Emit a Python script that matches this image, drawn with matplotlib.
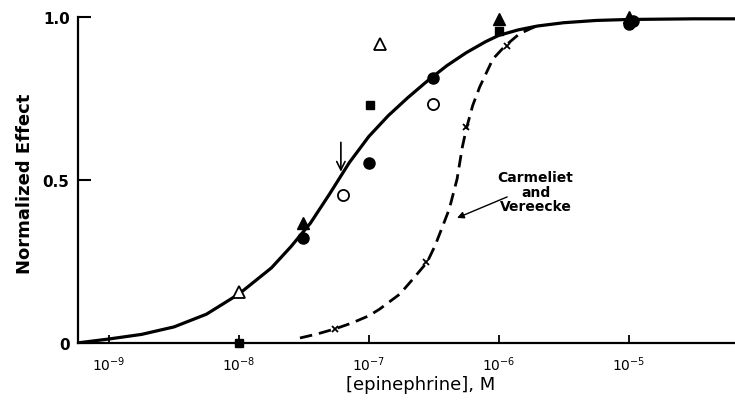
import numpy as np
import matplotlib
matplotlib.use('Agg')
import matplotlib.pyplot as plt

# fitted curve (log10 of concentration, normalized effect)
solid_logx = [-9.24, -9.0, -8.75, -8.5, -8.25, -8.0, -7.75, -7.6, -7.45, -7.3, -7.15,
              -7.0, -6.85, -6.7, -6.55, -6.4, -6.25, -6.1, -6.0, -5.85, -5.7,
              -5.5, -5.25, -5.0, -4.5, -4.18]
solid_y = [0.0, 0.012, 0.026, 0.049, 0.088, 0.150, 0.230, 0.295, 0.367, 0.458, 0.553,
           0.633, 0.697, 0.752, 0.803, 0.850, 0.890, 0.924, 0.943, 0.960, 0.972,
           0.982, 0.989, 0.992, 0.994, 0.994]

# Carmeliet and Vereecke curve (dashed)
dash_logx = [-7.53, -7.4, -7.26, -7.13, -7.0, -6.915, -6.76, -6.66, -6.55, -6.49,
             -6.43, -6.38, -6.32, -6.28, -6.25, -6.2, -6.146, -6.044, -5.95, -5.84, -5.71]
dash_y = [0.015, 0.027, 0.043, 0.061, 0.083, 0.104, 0.150, 0.196, 0.248, 0.298,
          0.359, 0.411, 0.503, 0.600, 0.655, 0.728, 0.785, 0.871, 0.911, 0.948, 0.972]

# data points (concentration in M, effect)
filled_circle_x = [3.1e-8, 1.0e-7, 3.1e-7, 1.0e-5, 1.08e-5]
filled_circle_y = [0.322, 0.552, 0.813, 0.979, 0.988]
open_circle_x = [6.3e-8, 3.1e-7]
open_circle_y = [0.454, 0.733]
filled_tri_x = [3.1e-8, 1.0e-6, 1.0e-5]
filled_tri_y = [0.368, 0.994, 1.0]
open_tri_x = [1.0e-8, 1.22e-7]
open_tri_y = [0.156, 0.917]
filled_sq_x = [1.0e-8, 1.03e-7, 1.0e-6]
filled_sq_y = [0.0, 0.73, 0.957]
cross_x = [5.47e-8, 2.78e-7, 5.6e-7, 1.15e-6]
cross_y = [0.043, 0.248, 0.663, 0.911]

xticks = [1e-9, 1e-8, 1e-7, 1e-6, 1e-5]
xtick_labels = ['$10^{-9}$', '$10^{-8}$', '$10^{-7}$', '$10^{-6}$', '$10^{-5}$']
yticks = [0, 0.5, 1.0]
ytick_labels = ['0', '0.5', '1.0']

fig = plt.figure(figsize=(7.35, 4.06), dpi=100)
ax = fig.add_axes([0.106, 0.153, 0.894, 0.803])

ax.plot(10 ** np.array(solid_logx), solid_y, color='black', lw=2.3, zorder=2)
ax.plot(10 ** np.array(dash_logx), dash_y, color='black', lw=2.0, ls=(0, (4.5, 2.5)), zorder=2)

ax.plot(filled_circle_x, filled_circle_y, 'o', color='black', ms=8, clip_on=False, zorder=3)
ax.plot(open_circle_x, open_circle_y, 'o', mfc='white', mec='black', mew=1.3, ms=8, clip_on=False, zorder=3)
ax.plot(filled_tri_x, filled_tri_y, '^', color='black', ms=8, clip_on=False, zorder=3)
ax.plot(open_tri_x, open_tri_y, '^', mfc='white', mec='black', mew=1.3, ms=9, clip_on=False, zorder=3)
ax.plot(filled_sq_x, filled_sq_y, 's', color='black', ms=6, clip_on=False, zorder=3)
ax.plot(cross_x, cross_y, 'x', color='black', ms=5, mew=1.3, clip_on=False, zorder=3)

# arrow marking the EC50
ax.annotate('', xy=(10 ** -7.215, 0.525), xytext=(10 ** -7.215, 0.615),
            arrowprops=dict(arrowstyle='->,head_length=0.6,head_width=0.3', lw=1.2,
                            color='black', shrinkA=0, shrinkB=0))

ax.annotate('', xy=(10 ** -6.34, 0.38), xytext=(10 ** -5.915, 0.451),
            arrowprops=dict(arrowstyle='-|>', lw=1.0, color='black', mutation_scale=10))
ax.text(10 ** -5.715, 0.463, 'Carmeliet\nand\nVereecke', ha='center', va='center',
        fontsize=10, fontweight='bold', linespacing=1.05)

ax.set_xscale('log')
ax.set_xlim(10 ** -9.24, 10 ** -4.18)
ax.set_ylim(0, 1.0)
ax.set_xticks(xticks)
ax.set_xticklabels(xtick_labels)
ax.minorticks_off()
ax.set_yticks(yticks)
ax.set_yticklabels(ytick_labels, fontweight='bold')

ax.tick_params(axis='x', direction='in', length=6, width=1.3, labelsize=10, pad=8)
ax.tick_params(axis='y', direction='in', length=9, width=1.5, labelsize=11, pad=6)

for s in ['top', 'right']:
    ax.spines[s].set_visible(False)
for s in ['left', 'bottom']:
    ax.spines[s].set_linewidth(1.6)

ax.set_ylabel('Normalized Effect', fontsize=13, fontweight='bold', va='center')
ax.yaxis.set_label_coords(-0.081, 0.49)
ax.set_xlabel('[epinephrine], M', fontsize=13, va='center')
ax.xaxis.set_label_coords(0.522, -0.126)

plt.savefig('out.png', dpi=100)
